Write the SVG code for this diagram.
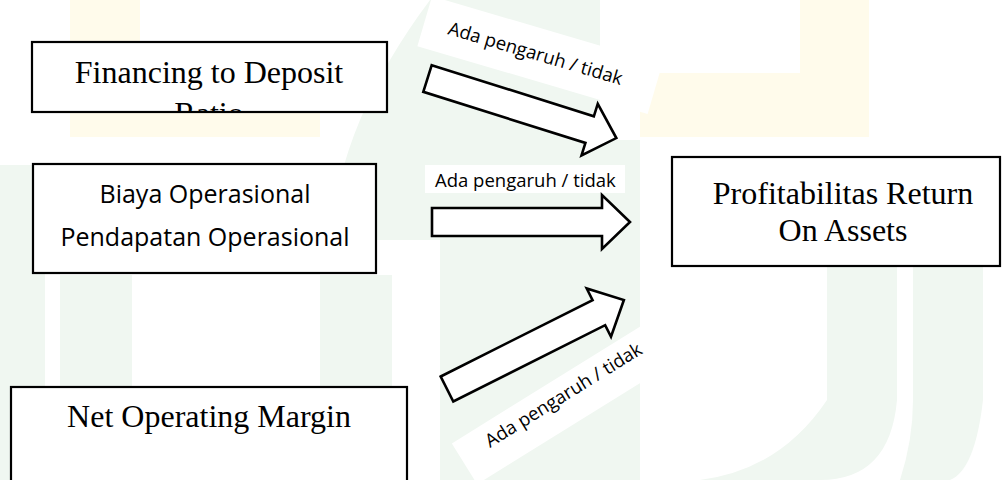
<svg xmlns="http://www.w3.org/2000/svg" width="1002" height="480" viewBox="0 0 1002 480">
<style>
.box{fill:#fff;stroke:#000;stroke-width:2.2}
.arrow{fill:#fff;stroke:#000;stroke-width:2.6;stroke-linejoin:miter}
.serif{font-family:"Liberation Serif","Times New Roman",serif;font-size:32px;fill:#000}
.sans{font-family:"Open Sans","Noto Sans",sans-serif;font-size:25px;fill:#000}
.lbl{font-family:"Open Sans","Noto Sans",sans-serif;font-size:18.5px;fill:#000}
.wg{fill:#f0f7f1}
.wy{fill:#fffbeb}
.bg{fill:#fff}
</style>
<defs>
<path id="blk" d="M0,-14 H170 V-27 L198,0 L170,27 V14 H0 Z"/>
<clipPath id="c1"><rect x="33" y="43" width="353" height="68"/></clipPath>
</defs>
<rect width="1002" height="480" fill="#fff"/>
<g id="watermark">
<rect class="wy" x="70" y="0" width="70" height="137"/>
<rect class="wy" x="70" y="73" width="250" height="64"/>
<rect class="wy" x="800" y="0" width="69" height="137"/>
<rect class="wy" x="640" y="73" width="229" height="64"/>
<path class="wy" d="M425,100 Q450,95 480,110 L470,150 Q440,150 425,140 Z"/>
<rect class="wg" x="0" y="165" width="45" height="315"/>
<rect class="wg" x="60" y="275" width="72" height="205"/>
<rect class="wg" x="320" y="275" width="72" height="205"/>
<path class="wg" d="M330,240 Q340,120 430,0 L600,0 L600,140 L640,140 L640,480 L440,480 L440,240 Z"/>
<path class="wg" d="M827,240 L897,240 L897,400 Q890,480 820,480 L700,480 Q780,470 827,400 Z"/>
<path class="wg" d="M913,240 L983,240 L983,400 Q975,470 950,480 L900,480 Q913,440 913,400 Z"/>
<path class="bg" d="M392,275 L440,275 L440,480 L392,480 Z"/>
</g>
<g id="connectors">
<g id="arrow1">
<rect class="bg" x="-25" y="-32" width="240" height="52" transform="translate(447,34) rotate(16.4)"/>
<use href="#blk" class="arrow" transform="translate(427.5,78.5) rotate(17.5)"/>
<text class="lbl" transform="translate(447,34) rotate(16.4)">Ada pengaruh / tidak</text>
</g>
<g id="arrow2">
<rect class="bg" x="425" y="165" width="200" height="28"/>
<use href="#blk" class="arrow" transform="translate(432,222)"/>
<text class="lbl" x="435" y="187">Ada pengaruh / tidak</text>
</g>
<g id="arrow3">
<rect class="bg" x="-30" y="-24" width="245" height="48" transform="translate(490,448) rotate(-31.8)"/>
<use href="#blk" class="arrow" transform="translate(447,389) rotate(-26.7)"/>
<text class="lbl" transform="translate(490,448) rotate(-31.8)">Ada pengaruh / tidak</text>
</g>
</g>
<g id="node-fdr">
<rect class="box" x="32" y="42" width="355" height="70"/>
<g clip-path="url(#c1)">
<text class="serif" x="209" y="83" text-anchor="middle">Financing to Deposit</text>
<text class="serif" x="209" y="124" text-anchor="middle">Ratio</text>
</g>
</g>
<g id="node-bopo">
<rect class="box" x="33" y="164" width="343" height="109"/>
<text class="sans" x="205" y="203" text-anchor="middle">Biaya Operasional</text>
<text class="sans" x="205" y="246" text-anchor="middle">Pendapatan Operasional</text>
</g>
<g id="node-nom">
<rect class="box" x="11" y="387" width="396" height="110"/>
<text class="serif" x="209" y="427" text-anchor="middle">Net Operating Margin</text>
</g>
<g id="node-roa">
<rect class="box" x="672" y="157" width="328" height="109"/>
<text class="serif" x="843" y="204" text-anchor="middle">Profitabilitas Return</text>
<text class="serif" x="843" y="241" text-anchor="middle">On Assets</text>
</g>
</svg>
